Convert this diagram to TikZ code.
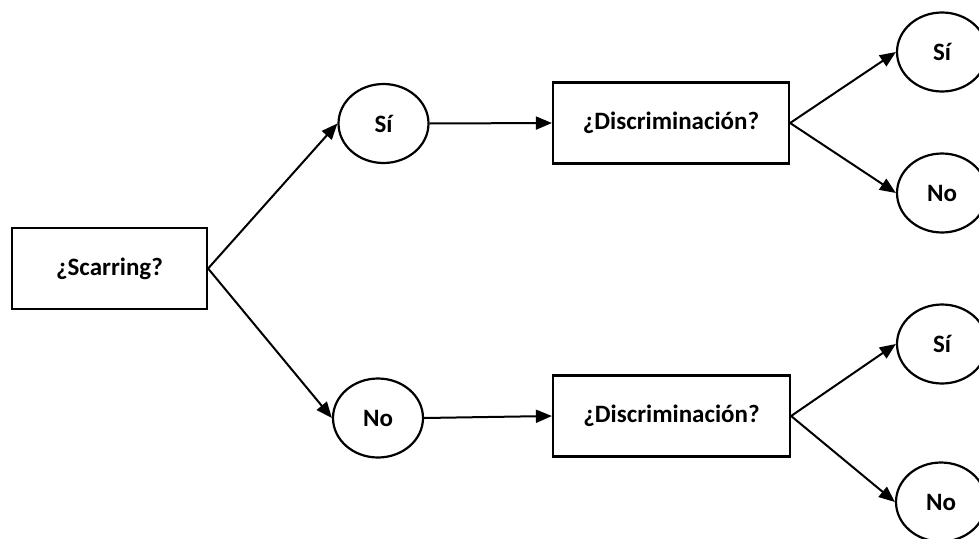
\documentclass[tikz,border=0pt]{standalone}
\usepackage{fontspec}
\setmainfont{Carlito}
\usetikzlibrary{arrows.meta,shapes.geometric}
\begin{document}
\begin{tikzpicture}[x=1pt,y=-1pt,
  every node/.style={font=\fontsize{25}{30}\selectfont\bfseries, line width=2.2pt, draw, inner sep=0pt},
  qbox/.style={rectangle, minimum height=81pt},
  ans/.style={ellipse, minimum width=90pt, minimum height=79pt},
  conn/.style={line width=2pt, -{Triangle[length=16pt,width=13pt]}}
]
\useasboundingbox (0,0) rectangle (979,538);
\node[qbox, minimum width=195pt] (a) at (109.5,268.5) {¿Scarring?};
\node[ans] (b1) at (383.5,123.5) {Sí};
\node[ans] (b2) at (378,418) {No};
\node[qbox, minimum width=236pt] (c1) at (671,123) {¿Discriminación?};
\node[qbox, minimum width=237pt] (c2) at (671.5,416) {¿Discriminación?};
\node[ans] (d1) at (942,52) {Sí};
\node[ans] (d2) at (942,193) {No};
\node[ans] (d3) at (942,344) {Sí};
\node[ans] (d4) at (941,502) {No};
\draw[conn] (a.east) -- (b1.west);
\draw[conn] (a.east) -- (b2.west);
\draw[conn] (b1.east) -- (c1.west);
\draw[conn] (b2.east) -- (c2.west);
\draw[conn] (c1.east) -- (d1.west);
\draw[conn] (c1.east) -- (d2.west);
\draw[conn] (c2.east) -- (d3.west);
\draw[conn] (c2.east) -- (d4.west);
\end{tikzpicture}
\end{document}
